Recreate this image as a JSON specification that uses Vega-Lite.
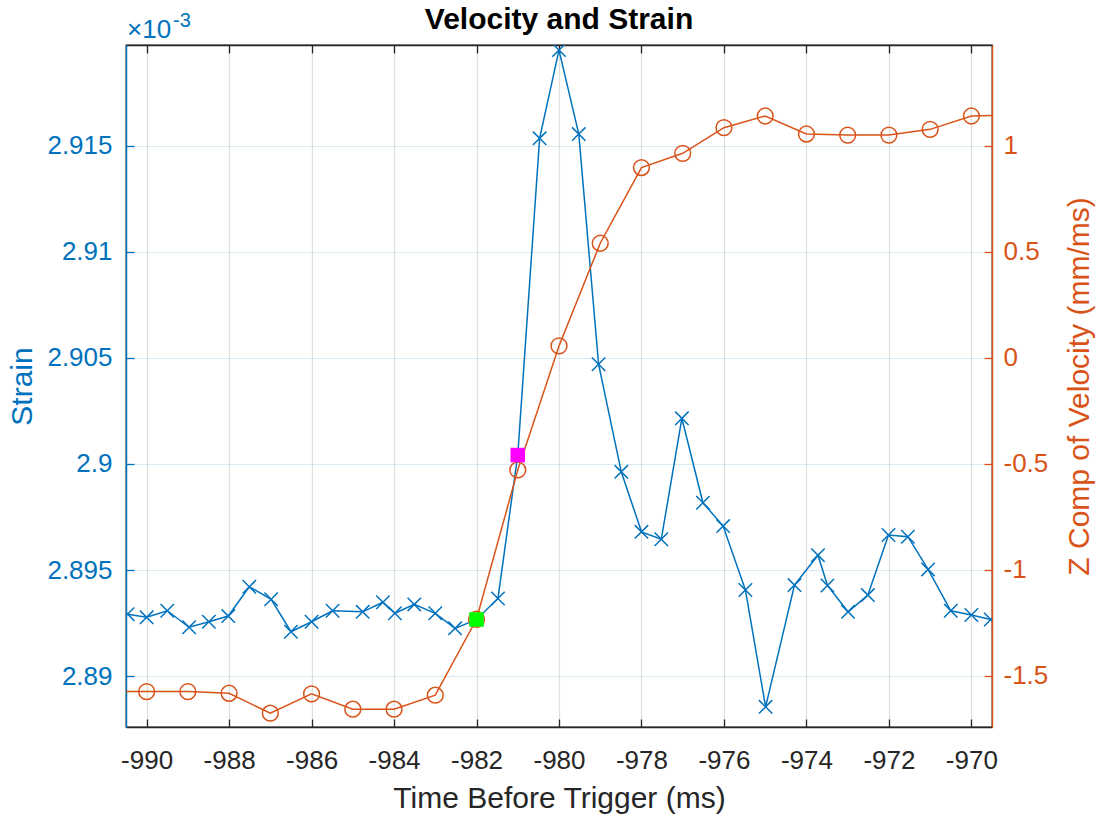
{
  "$schema": "https://vega.github.io/schema/vega-lite/v6.json",
  "width": 866,
  "height": 682,
  "autosize": {"type": "none"},
  "padding": {"left": 126, "top": 45, "right": 106, "bottom": 90},
  "background": "white",
  "config": {
    "font": "Liberation Sans",
    "view": {"stroke": "#262626", "strokeWidth": 1.3},
    "axis": {"labelFont": "Liberation Sans", "titleFont": "Liberation Sans", "titleFontWeight": "normal"}
  },
  "title": {
    "text": "Velocity and Strain",
    "fontSize": 30,
    "fontWeight": "bold",
    "color": "#000000",
    "anchor": "middle",
    "baseline": "alphabetic",
    "offset": -48,
    "font": "Liberation Sans"
  },
  "datasets": {
    "strain": [
      {"t": -990.46, "strain": 2.89292},
      {"t": -990.0, "strain": 2.89277},
      {"t": -989.5, "strain": 2.89308},
      {"t": -988.97, "strain": 2.8923},
      {"t": -988.49, "strain": 2.89256},
      {"t": -988.02, "strain": 2.89283},
      {"t": -987.51, "strain": 2.89421},
      {"t": -986.98, "strain": 2.89362},
      {"t": -986.5, "strain": 2.89209},
      {"t": -986.0, "strain": 2.89256},
      {"t": -985.49, "strain": 2.89308},
      {"t": -984.76, "strain": 2.89303},
      {"t": -984.27, "strain": 2.89348},
      {"t": -983.98, "strain": 2.89296},
      {"t": -983.51, "strain": 2.89338},
      {"t": -983.0, "strain": 2.89296},
      {"t": -982.52, "strain": 2.89225},
      {"t": -982.0, "strain": 2.89267},
      {"t": -981.48, "strain": 2.89366},
      {"t": -981.0, "strain": 2.90042},
      {"t": -980.47, "strain": 2.91535},
      {"t": -980.0, "strain": 2.91951},
      {"t": -979.52, "strain": 2.91555},
      {"t": -979.04, "strain": 2.9047},
      {"t": -978.49, "strain": 2.89963},
      {"t": -978.0, "strain": 2.8968},
      {"t": -977.52, "strain": 2.89645},
      {"t": -977.02, "strain": 2.90215},
      {"t": -976.51, "strain": 2.89817},
      {"t": -976.02, "strain": 2.89707},
      {"t": -975.48, "strain": 2.89406},
      {"t": -974.99, "strain": 2.88855},
      {"t": -974.29, "strain": 2.89429},
      {"t": -973.72, "strain": 2.8957},
      {"t": -973.49, "strain": 2.89427},
      {"t": -972.99, "strain": 2.89303},
      {"t": -972.51, "strain": 2.89382},
      {"t": -972.01, "strain": 2.89665},
      {"t": -971.54, "strain": 2.89657},
      {"t": -971.05, "strain": 2.89503},
      {"t": -970.5, "strain": 2.89308},
      {"t": -970.0, "strain": 2.89288},
      {"t": -969.53, "strain": 2.89267}
    ],
    "velocity": [
      {"t": -991, "v": -1.574},
      {"t": -990, "v": -1.574},
      {"t": -989, "v": -1.574},
      {"t": -988, "v": -1.582},
      {"t": -987, "v": -1.676},
      {"t": -986, "v": -1.585},
      {"t": -985, "v": -1.657},
      {"t": -984, "v": -1.657},
      {"t": -983, "v": -1.591},
      {"t": -982, "v": -1.233},
      {"t": -981, "v": -0.529},
      {"t": -980, "v": 0.056},
      {"t": -979, "v": 0.54},
      {"t": -978, "v": 0.897},
      {"t": -977, "v": 0.964},
      {"t": -976, "v": 1.085},
      {"t": -975, "v": 1.14},
      {"t": -974, "v": 1.055},
      {"t": -973, "v": 1.05},
      {"t": -972, "v": 1.05},
      {"t": -971, "v": 1.077},
      {"t": -970, "v": 1.14},
      {"t": -969, "v": 1.145}
    ],
    "highlights": [
      {"t": -982, "strain": 2.89267, "kind": "green"},
      {"t": -981, "strain": 2.90042, "kind": "magenta"}
    ]
  },
  "layer": [
    {
      "data": {"name": "strain"},
      "encoding": {
        "x": {
          "field": "t", "type": "quantitative",
          "scale": {"domain": [-990.5, -969.5], "nice": false, "zero": false},
          "axis": {
            "orient": "bottom",
            "values": [-990, -988, -986, -984, -982, -980, -978, -976, -974, -972, -970],
            "labelExpr": "datum.value + ''",
            "title": "Time Before Trigger (ms)",
            "titleFontSize": 30, "titleColor": "#262626", "titlePadding": 10,
            "labelFontSize": 26, "labelColor": "#262626", "labelPadding": 28,
            "domainColor": "#262626", "domainWidth": 1.3,
            "tickColor": "#262626", "tickSize": -8, "tickWidth": 1.3,
            "grid": true, "gridColor": "#262626", "gridOpacity": 0.15, "gridWidth": 1.2
          }
        },
        "y": {
          "field": "strain", "type": "quantitative",
          "scale": {"domain": [2.8876, 2.91975], "nice": false, "zero": false},
          "axis": {
            "orient": "left",
            "values": [2.89, 2.895, 2.9, 2.905, 2.91, 2.915],
            "labelExpr": "datum.value + ''",
            "title": "Strain",
            "titleFontSize": 30, "titleColor": "#0072BD",
            "titleX": -104, "titleY": 341, "titleAngle": 270, "titleBaseline": "middle", "titleAlign": "center",
            "labelFontSize": 26, "labelColor": "#0072BD", "labelPadding": 22,
            "domainColor": "#0072BD", "domainWidth": 1.5,
            "tickColor": "#0072BD", "tickSize": -8, "tickWidth": 1.3,
            "grid": true, "gridColor": "#0072BD", "gridOpacity": 0.15, "gridWidth": 1.2
          }
        }
      },
      "layer": [
        {"mark": {"type": "line", "color": "#0072BD", "strokeWidth": 1.5, "clip": true}},
        {"mark": {"type": "point", "shape": "M-1,-1L1,1M-1,1L1,-1", "filled": false, "stroke": "#0072BD", "strokeWidth": 1.5, "size": 180, "opacity": 1, "clip": true}}
      ]
    },
    {
      "data": {"name": "velocity"},
      "encoding": {
        "x": {
          "field": "t", "type": "quantitative",
          "scale": {"domain": [-990.5, -969.5], "nice": false, "zero": false},
          "axis": {
            "orient": "top",
            "values": [-990, -988, -986, -984, -982, -980, -978, -976, -974, -972, -970],
            "labels": false, "title": null, "grid": false,
            "domainColor": "#262626", "domainWidth": 1.3,
            "tickColor": "#262626", "tickSize": -8, "tickWidth": 1.3
          }
        },
        "y": {
          "field": "v", "type": "quantitative",
          "scale": {"domain": [-1.741, 1.4748], "nice": false, "zero": false},
          "axis": {
            "orient": "right",
            "values": [-1.5, -1, -0.5, 0, 0.5, 1],
            "labelExpr": "datum.value + ''",
            "title": "Z Comp of Velocity (mm/ms)",
            "titleFontSize": 30, "titleColor": "#D95319",
            "titleX": 87, "titleY": 341, "titleAngle": 270, "titleBaseline": "middle", "titleAlign": "center",
            "labelFontSize": 26, "labelColor": "#D95319", "labelPadding": 19,
            "domainColor": "#D95319", "domainWidth": 1.5,
            "tickColor": "#D95319", "tickSize": -8, "tickWidth": 1.3,
            "grid": false
          }
        }
      },
      "layer": [
        {"mark": {"type": "line", "color": "#D95319", "strokeWidth": 1.5, "clip": true}},
        {"mark": {"type": "point", "shape": "circle", "filled": false, "stroke": "#D95319", "strokeWidth": 1.5, "size": 250, "opacity": 1, "clip": true}}
      ]
    },
    {
      "encoding": {
        "x": {"type": "quantitative", "scale": {"domain": [-990.5, -969.5], "nice": false, "zero": false}, "axis": null},
        "y": {"type": "quantitative", "scale": {"domain": [2.8876, 2.91975], "nice": false, "zero": false}, "axis": null}
      },
      "layer": [
        {
          "data": {"name": "highlights"},
          "mark": {"type": "point", "shape": "square", "filled": true, "size": 210, "opacity": 1, "clip": true},
          "encoding": {
            "x": {"field": "t", "type": "quantitative"},
            "y": {"field": "strain", "type": "quantitative"},
            "color": {"field": "kind", "type": "nominal", "scale": {"domain": ["green", "magenta"], "range": ["#00FF00", "#FF00FF"]}, "legend": null}
          }
        },
        {
          "data": {"values": [{"label": "×10"}]},
          "mark": {"type": "text", "align": "left", "baseline": "alphabetic", "dx": 1, "dy": -7, "fontSize": 26, "color": "#0072BD", "font": "Liberation Sans"},
          "encoding": {
            "x": {"datum": -990.5, "type": "quantitative"},
            "y": {"datum": 2.91975, "type": "quantitative"},
            "text": {"field": "label"}
          }
        },
        {
          "data": {"values": [{"label": "-3"}]},
          "mark": {"type": "text", "align": "left", "baseline": "alphabetic", "dx": 47, "dy": -18, "fontSize": 20, "color": "#0072BD", "font": "Liberation Sans"},
          "encoding": {
            "x": {"datum": -990.5, "type": "quantitative"},
            "y": {"datum": 2.91975, "type": "quantitative"},
            "text": {"field": "label"}
          }
        }
      ]
    }
  ],
  "resolve": {"scale": {"y": "independent"}, "axis": {"x": "independent", "y": "independent"}}
}
